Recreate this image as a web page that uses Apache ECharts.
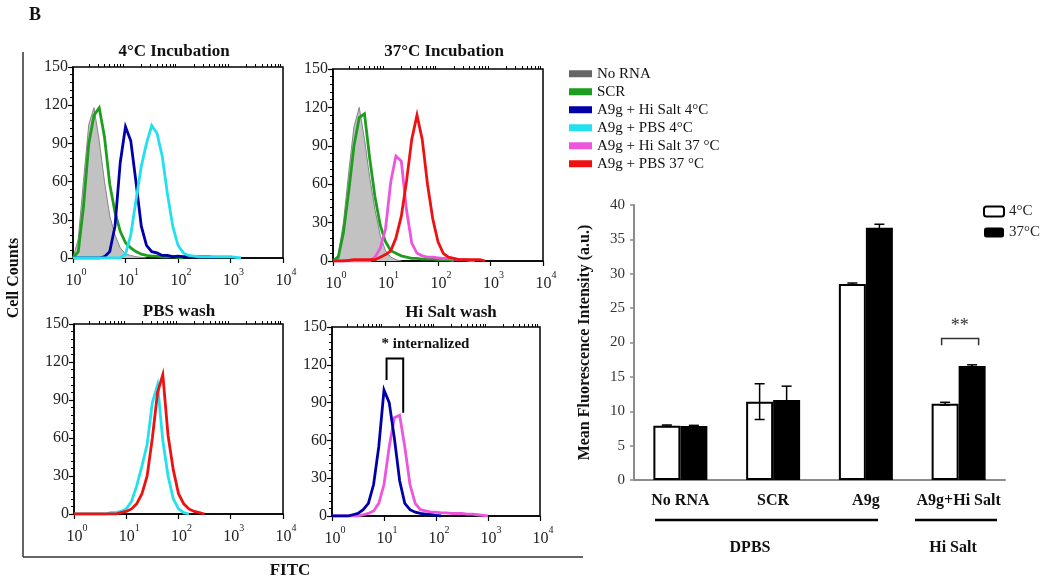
<!DOCTYPE html>
<html><head><meta charset="utf-8">
<script src="https://cdn.jsdelivr.net/npm/echarts@6/dist/echarts.min.js"></script>
<style>html,body{margin:0;padding:0;background:#fff}#c{width:1050px;height:584px}</style>
</head><body><div id="c"></div><script>
// ---- histogram bins: FITC channel centres (0.1-decade steps) ----
const bins = [1,1.26,1.58,2.00,2.51,3.16,3.98,5.01,6.31,7.94,10,12.6,15.8,20.0,25.1,31.6,39.8,50.1,63.1,79.4,100,126,158,200,251,316,398,501,631,794,1000,1259,1585,1995,2512,3162,3981,5012,6310,7943,10000];
const decadeTicks = [1,10,100,1000,10000];
const minorTickValues = [2,3,4,5,6,7,8,9,20,30,40,50,60,70,80,90,200,300,400,500,600,700,800,900,2000,3000,4000,5000,6000,7000,8000,9000];

// 4°C incubation panel (counts per bin)
const noRna4  = [0,15,60,105,118,92,60,33,18,8,3,2,1,0.5,0];
const scr4    = [0,5,40,90,112,118,95,58,36,21,12,8,5,3,2,1.5,1.5,1,1,1,0.5,0];
const hiSalt4 = [0,0,0,0,0,0,1,5,25,75,103,92,60,25,10,5,4,2,2,1,1.5,1,1,1,1,1,1,0];
const pbs4    = [0,0,0,0,0,0,0,0,0,0,3,18,45,72,90,104,98,80,50,25,10,4,2,1.5,1,1,1,1,1,1,1,0.5,0];
// 37°C incubation panel
const noRna37  = [0,5,30,70,105,120,95,65,40,20,8,3,1,0];
const scr37    = [0,3,22,55,90,112,115,80,50,28,15,8,6,4,3,2,2,1.5,1.5,1.5,1,1,1,0];
const hiSalt37 = [0,0,0,0,0,0,0,0,3,10,25,62,82,78,40,14,6,4,3,3,2.5,2,2,1.5,1,1,0.5,0];
const pbs37    = [0,0,0,0.5,1,1,1,1,1,3,5,8,18,35,62,95,114,95,60,33,15,6,3,2,1,1,1,1,1,0];
// PBS wash panel
const pbsWashCyan = [0,0,0,0,0,0,0,1,1,2,4,10,22,38,55,88,102,58,30,12,4,1,0];
const pbsWashRed  = [0,0,0,0,0,0,0,0,0,1,2,4,8,16,30,60,96,110,62,35,16,8,4,2,1,0];
// Hi Salt wash panel
const hsWashBlue = [0,0,0,0,1,2,5,10,25,55,100,90,62,28,10,5,3,2,1.5,1,0.5,0];
const hsWashPink = [0,0,0,0,0,0,1,2,4,10,25,55,78,80,55,25,10,5,4,3,3,2.5,2.5,2,2,2,1.5,1.5,1,0.5,0];

// bracket "* internalized" (FITC x positions, counts)
const internalX = [11.2, 23.4];
const internalY = [125, 108, 82];

// ---- bar chart ----
const categories = ['No RNA','SCR','A9g','A9g+Hi Salt'];
const mean4  = [7.9, 11.4, 28.5, 11.1];
const err4   = [0.1, 2.6, 0.15, 0.2];
const mean37 = [7.85, 11.65, 36.7, 16.6];
const err37  = [0.1, 2.0, 0.5, 0.15];
const sigY = [22.3, 20.6, 19.6];

const SERIF = '"Liberation Serif","Times New Roman",serif';
const names = ['No RNA','SCR','A9g + Hi Salt 4°C','A9g + PBS 4°C','A9g + Hi Salt 37 °C','A9g + PBS 37 °C'];
const colors = {
  'No RNA':'#666666','SCR':'#1e9e1e','A9g + Hi Salt 4°C':'#0000a8','A9g + PBS 4°C':'#22e0ee',
  'A9g + Hi Salt 37 °C':'#ee55dd','A9g + PBS 37 °C':'#ee1111'
};
const grids = [
  {left:73, top:67, width:210, height:191},
  {left:333, top:69, width:210, height:192},
  {left:74, top:324, width:209, height:190},
  {left:332, top:327, width:208, height:189},
  {left:634, top:205, width:371, height:275}
];
const xAxes = [], yAxes = [];
for (let g = 0; g < 4; g++) {
  xAxes.push({
    type:'log', logBase:10, min:1, max:10000, gridIndex:g,
    axisLine:{show:true, lineStyle:{color:'#000', width:1.5}},
    axisTick:{show:true, length:5, lineStyle:{color:'#000', width:1.2}},
    splitLine:{show:false},
    axisLabel:{margin:7, showMinLabel:true, showMaxLabel:true,
      formatter:v => '{b|10}{s|' + Math.round(Math.log10(v)) + '}',
      rich:{ b:{fontFamily:SERIF, fontSize:16, color:'#222', padding:[8,0,0,6]},
             s:{fontFamily:SERIF, fontSize:10, color:'#222', padding:[0,0,10,0]} } }
  });
  xAxes.push({
    type:'log', logBase:10, min:1, max:10000, gridIndex:g,
    axisLine:{show:false}, axisLabel:{show:false}, splitLine:{show:false},
    axisTick:{show:true, length:3, customValues:minorTickValues, lineStyle:{color:'#000', width:1}}
  });
  yAxes.push({
    type:'value', min:0, max:150, interval:30, gridIndex:g,
    axisLine:{show:true, lineStyle:{color:'#000', width:1.5}},
    axisTick:{show:true, length:5, lineStyle:{color:'#000', width:1.2}},
    minorTick:{show:true, splitNumber:5, length:3, lineStyle:{color:'#000'}},
    splitLine:{show:false},
    axisLabel:{fontFamily:SERIF, fontSize:16, color:'#222', margin:5}
  });
}
xAxes.push({
  type:'category', data:categories, gridIndex:4,
  axisLine:{lineStyle:{color:'#8c8c8c', width:2}},
  axisTick:{length:4, lineStyle:{color:'#8c8c8c', width:1.5}},
  axisLabel:{interval:0, fontFamily:SERIF, fontSize:16, fontWeight:'bold', color:'#111', margin:13}
});
yAxes.push({
  type:'value', min:0, max:40, interval:5, gridIndex:4,
  axisLine:{show:true, lineStyle:{color:'#8c8c8c', width:2}},
  axisTick:{show:true, length:4, lineStyle:{color:'#8c8c8c', width:1.5}},
  splitLine:{show:false},
  axisLabel:{fontFamily:SERIF, fontSize:15, color:'#333', margin:9},
  name:'Mean Fluorescence Intensity (a.u.)', nameLocation:'middle', nameRotate:90, nameGap:41,
  nameTextStyle:{fontFamily:SERIF, fontSize:16, fontWeight:'bold', color:'#111'}
});

function hist(name, counts, g, z, fill) {
  const s = {
    type:'line', name, xAxisIndex:2*g, yAxisIndex:g, symbol:'none', z,
    data: counts.map((c,i) => [bins[i], c]),
    lineStyle:{color: fill ? '#858585' : colors[name], width: fill ? 1 : 2.8, join:'miter'},
    itemStyle:{color: colors[name]}
  };
  if (fill) s.areaStyle = {color:'#c2c2c2', opacity:1};
  return s;
}
const series = [
  hist('No RNA', noRna4, 0, 2, true),
  hist('SCR', scr4, 0, 3),
  hist('A9g + Hi Salt 4°C', hiSalt4, 0, 4),
  hist('A9g + PBS 4°C', pbs4, 0, 5),
  hist('No RNA', noRna37, 1, 2, true),
  hist('SCR', scr37, 1, 3),
  hist('A9g + Hi Salt 37 °C', hiSalt37, 1, 4),
  hist('A9g + PBS 37 °C', pbs37, 1, 5),
  hist('A9g + PBS 4°C', pbsWashCyan, 2, 4),
  hist('A9g + PBS 37 °C', pbsWashRed, 2, 5),
  hist('A9g + Hi Salt 4°C', hsWashBlue, 3, 5),
  hist('A9g + Hi Salt 37 °C', hsWashPink, 3, 4),
  {type:'bar', name:'4°C', xAxisIndex:8, yAxisIndex:4, data:mean4, barWidth:27, barGap:'0%',
   itemStyle:{color:'#fff', borderColor:'#000', borderWidth:2}},
  {type:'bar', name:'37°C', xAxisIndex:8, yAxisIndex:4, data:mean37, barWidth:27, barGap:'0%',
   itemStyle:{color:'#000'}},
];
function errSeries(means, errs, off) {
  return {
    type:'custom', xAxisIndex:8, yAxisIndex:4, z:10, silent:true,
    data: means.map((m,i) => [i, m, errs[i]]),
    renderItem:(p, api) => {
      const i = api.value(0), m = api.value(1), e = api.value(2);
      const hi = api.coord([i, m+e]), lo = api.coord([i, m-e]);
      const x = hi[0] + off, st = {stroke:'#000', lineWidth:1.5};
      return {type:'group', children:[
        {type:'line', shape:{x1:x, y1:hi[1], x2:x, y2:lo[1]}, style:st},
        {type:'line', shape:{x1:x-5, y1:hi[1], x2:x+5, y2:hi[1]}, style:st},
        {type:'line', shape:{x1:x-5, y1:lo[1], x2:x+5, y2:lo[1]}, style:st}
      ]};
    }
  };
}
series.push(errSeries(mean4, err4, -13.5), errSeries(mean37, err37, 13.5));

const titleStyle = {fontFamily:SERIF, fontSize:17, fontWeight:'bold', color:'#111'};
const option = {
  animation:false,
  backgroundColor:'#fff',
  title:[
    {text:'4°C Incubation', left:174, top:43, textAlign:'center', textStyle:titleStyle, padding:0},
    {text:'37°C Incubation', left:444, top:43, textAlign:'center', textStyle:titleStyle, padding:0},
    {text:'PBS wash', left:179, top:303, textAlign:'center', textStyle:titleStyle, padding:0},
    {text:'Hi Salt wash', left:451, top:304, textAlign:'center', textStyle:titleStyle, padding:0}
  ],
  legend:[
    {data:names, orient:'vertical', left:569, top:66, icon:'rect', itemWidth:23, itemHeight:7, itemGap:2.5,
     padding:0, selectedMode:false, textStyle:{fontFamily:SERIF, fontSize:15, color:'#111', lineHeight:15.5}},
    {data:['4°C','37°C'], orient:'vertical', left:983, top:204, itemWidth:20, itemHeight:10, itemGap:6,
     padding:0, selectedMode:false, textStyle:{fontFamily:SERIF, fontSize:15, color:'#222'}}
  ],
  grid: grids.map((g,i) => Object.assign({show: i<4, borderColor:'#000', borderWidth:1.5, backgroundColor:'#fff'}, g)),
  xAxis:xAxes, yAxis:yAxes, series,
  graphic:[
    {type:'text', left:29, top:6, style:{text:'B', font:'bold 18px '+SERIF, fill:'#111'}},
    {type:'line', shape:{x1:23, y1:52, x2:23, y2:557}, style:{stroke:'#333', lineWidth:1.5}},
    {type:'line', shape:{x1:23, y1:557, x2:583, y2:557}, style:{stroke:'#333', lineWidth:1.5}},
    {type:'text', x:14, y:278, rotation:Math.PI/2, style:{text:'Cell Counts', font:'bold 16px '+SERIF, fill:'#111', align:'center', verticalAlign:'middle'}},
    {type:'text', x:290, y:571, style:{text:'FITC', font:'bold 17px '+SERIF, fill:'#111', align:'center', verticalAlign:'middle'}},
    {type:'line', shape:{x1:655, y1:520, x2:878, y2:520}, style:{stroke:'#000', lineWidth:2.5}},
    {type:'line', shape:{x1:915, y1:520, x2:997, y2:520}, style:{stroke:'#000', lineWidth:2.5}},
    {type:'text', x:750, y:548, style:{text:'DPBS', font:'bold 16px '+SERIF, fill:'#111', align:'center', verticalAlign:'middle'}},
    {type:'text', x:953, y:548, style:{text:'Hi Salt', font:'bold 16px '+SERIF, fill:'#111', align:'center', verticalAlign:'middle'}}
  ]
};
const chart = echarts.init(document.getElementById('c'), null, {renderer:'canvas'});
chart.setOption(option);

// annotations placed through the axes' own scales
const a = chart.convertToPixel({xAxisIndex:6, yAxisIndex:3}, [internalX[0], internalY[0]]);
const b1 = chart.convertToPixel({xAxisIndex:6, yAxisIndex:3}, [internalX[1], internalY[0]]);
const aEnd = chart.convertToPixel({xAxisIndex:6, yAxisIndex:3}, [internalX[0], internalY[1]]);
const bEnd = chart.convertToPixel({xAxisIndex:6, yAxisIndex:3}, [internalX[1], internalY[2]]);
const c0 = chart.convertToPixel({xAxisIndex:8, yAxisIndex:4}, [3, sigY[1]]);
const cLeg = chart.convertToPixel({xAxisIndex:8, yAxisIndex:4}, [3, sigY[2]]);
const cStar = chart.convertToPixel({xAxisIndex:8, yAxisIndex:4}, [3, sigY[0]]);
const extra = [
  {type:'polyline', shape:{points:[[a[0],aEnd[1]],[a[0],a[1]],[b1[0],a[1]],[b1[0],bEnd[1]]]}, style:{stroke:'#000', lineWidth:2, fill:null}},
  {type:'text', x:a[0]-5, y:a[1]-14, style:{text:'* internalized', font:'bold 15px '+SERIF, fill:'#111', align:'left', verticalAlign:'middle'}},
  {type:'polyline', shape:{points:[[c0[0]-17,cLeg[1]],[c0[0]-17,c0[1]],[c0[0]+20,c0[1]],[c0[0]+20,cLeg[1]]]}, style:{stroke:'#333', lineWidth:1.5, fill:null}},
  {type:'text', x:c0[0]+1, y:cStar[1], style:{text:'**', font:'18px '+SERIF, fill:'#333', align:'center', verticalAlign:'middle'}}
];
chart.setOption({graphic: option.graphic.concat(extra)});
</script></body></html>
